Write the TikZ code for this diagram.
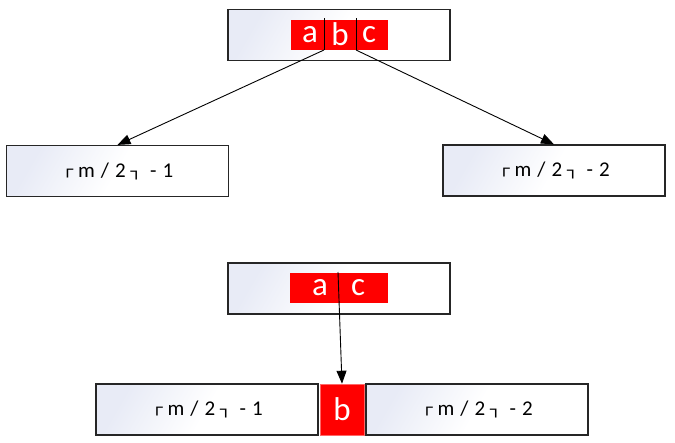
\documentclass[tikz,border=0pt]{standalone}
\usepackage{fontspec}
\setmainfont{Carlito}
\newfontfamily\boxfont{DejaVu Sans}
\usetikzlibrary{arrows.meta}
\definecolor{boxgrey}{RGB}{232,235,246}
\definecolor{keyred}{RGB}{255,0,0}
\newcommand{\lc}{{\boxfont\fontsize{14}{14}\selectfont\raisebox{3pt}{\scalebox{1.35}[1]{┌}}}}
\newcommand{\rc}{{\boxfont\fontsize{14}{14}\selectfont\raisebox{1pt}{\scalebox{1.35}[1]{┐}}}}
\newcommand{\mlabel}[1]{\lc\hspace{5pt}m\hspace{6pt}/\hspace{6pt}2\hspace{5pt}\rc\hspace{8pt}-\hspace{6pt}#1\hspace{15pt}}
\tikzset{
  x=1pt,y=-1pt,
  nodebox/.style={draw=black!85, line width=1.2pt, minimum width=222pt, minimum height=51pt,
    inner sep=0pt, left color=boxgrey, right color=white, middle color=white, shading angle=60,
    font=\fontsize{21}{21}\selectfont},
  keybox/.style={fill=keyred, draw=none, inner sep=0pt, minimum height=30pt,
    text=white, font=\fontsize{33}{33}\selectfont},
  keytext/.style={text=white, font=\fontsize{33}{33}\selectfont, inner sep=0pt},
  divider/.style={line width=0.9pt, black},
  arr/.style={line width=0.9pt, -{Triangle[length=13pt,width=10pt]}},
}
\begin{document}
\begin{tikzpicture}
\useasboundingbox (0,0) rectangle (675,442);
% top split
\node[nodebox] (top) at (339,35) {};
\node[keybox, minimum width=97pt] (abc) at (339.5,35) {};
\node[keytext] (ka) at (310,35) {a};
\node[keytext] (kb) at (340,34) {b};
\node[keytext] (kc) at (369,35) {c};
\coordinate (d1t) at (324,18);
\coordinate (d1b) at (324,50);
\coordinate (d2t) at (356,18);
\coordinate (d2b) at (356,50);
\node[nodebox] (left) at (117.5,171) {\mlabel{1}};
\node[nodebox] (right) at (554,170.5) {\mlabel{2}};
\draw[divider] (d1t) -- (d1b);
\draw[divider] (d2t) -- (d2b);
\draw[arr] (d1b) -- (left.north);
\draw[arr] (d2b) -- (right.north);
% bottom merged
\node[nodebox] (top2) at (339,288.5) {};
\node[keybox, minimum width=98pt] (ac) at (339,288) {};
\node[keytext] (ka2) at (320,288) {a};
\node[keytext] (kc2) at (358,288) {c};
\coordinate (d3t) at (338,272);
\node[nodebox] (left2) at (207,409.5) {\mlabel{1}};
\node[keybox, minimum width=44pt, minimum height=51pt, draw=keyred!60, line width=0.6pt] (b2) at (342,409.5) {b};
\node[nodebox] (right2) at (477,409.5) {\mlabel{2}};
\draw[arr] (d3t) -- (b2.north);
\end{tikzpicture}
\end{document}
